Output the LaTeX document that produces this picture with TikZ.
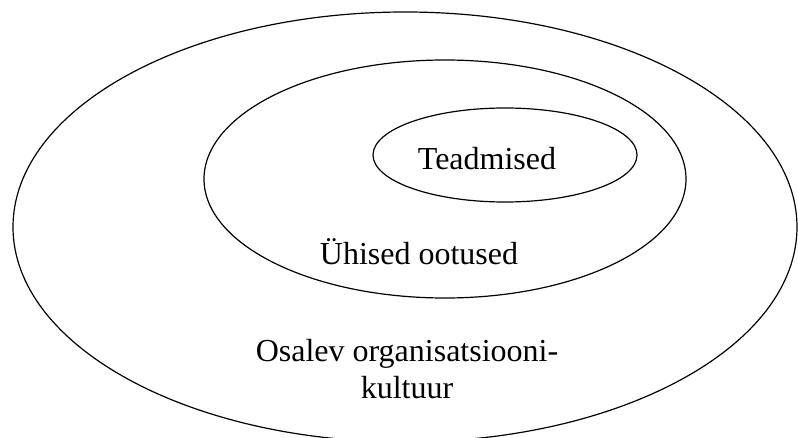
\documentclass[tikz,border=0pt]{standalone}
\usepackage{fontspec}
\setmainfont{Liberation Serif}
\usetikzlibrary{shapes.geometric}

\begin{document}
\begin{tikzpicture}[
    x=1pt, y=-1pt,
    every node/.style={font=\fontsize{32}{36}\selectfont},
    layer/.style={ellipse, draw, line width=1.2pt, inner sep=0pt},
    lbl/.style={inner sep=0pt, anchor=base, align=center}
]

    % --- Raam ---
    \useasboundingbox (0,0) rectangle (798,438);
    \clip (0,0) rectangle (798,438);

    % --- Ellipsid (väljast sisse) ---
    \node[layer, minimum width=784pt, minimum height=430pt] (kultuur)   at (405, 227) {};
    \node[layer, minimum width=482pt, minimum height=238pt] (ootused)   at (445, 179) {};
    \node[layer, minimum width=264pt, minimum height=94pt]  (teadmised) at (505, 155) {};

    % --- Tekstid (base = viimase rea alusjoon) ---
    \node[lbl] (tTeadmised) at (487, 170) {Teadmised};
    \node[lbl] (tOotused)   at (419, 265) {Ühised ootused};
    \node[lbl] (tKultuur)   at (407, 398) {Osalev organisatsiooni-\\kultuur};

\end{tikzpicture}
\end{document}
